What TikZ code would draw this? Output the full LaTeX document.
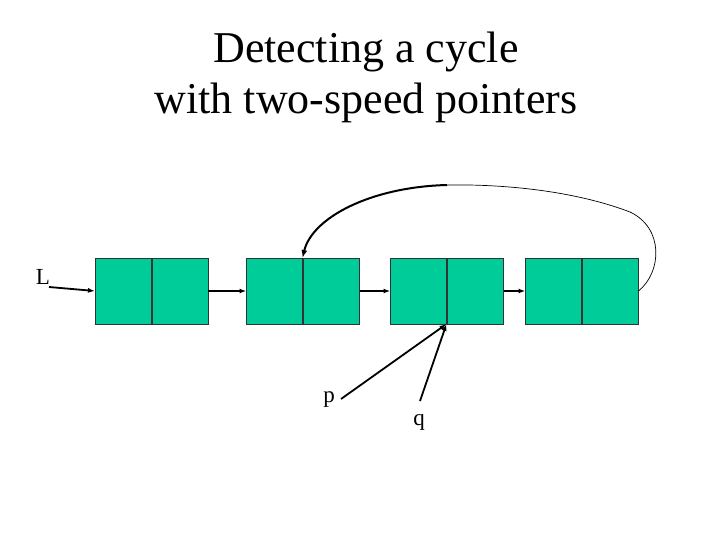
\documentclass[tikz,border=0pt]{standalone}
\usepackage{fontspec}
\setmainfont{Liberation Serif}
\usetikzlibrary{arrows.meta}
\definecolor{cellgreen}{HTML}{00CC99}
\begin{document}
\begin{tikzpicture}[x=1pt,y=-1pt,
  cell/.style={draw=black!80,fill=cellgreen,line width=0.9pt,minimum width=56pt,minimum height=66pt,inner sep=0pt,outer sep=0pt},
  link/.style={line width=1.8pt,-{Latex[length=7pt,width=5pt]}},
  lbl/.style={font=\fontsize{23}{27}\selectfont,inner sep=0pt}]
\useasboundingbox (0,0) rectangle (720,540);
\node[align=center,font=\fontsize{44}{51}\selectfont] (title) at (366,77) {Detecting a cycle\\with two-speed pointers};
% cells
\node[cell] (a1) at (123,291) {};
\node[cell] (a2) at (180,291) {};
\node[cell] (b1) at (274.5,291) {};
\node[cell] (b2) at (331.5,291) {};
\node[cell] (c1) at (418.5,291) {};
\node[cell] (c2) at (475.5,291) {};
\node[cell] (d1) at (553.5,291) {};
\node[cell] (d2) at (610.5,291) {};
\draw[link] (a2.east) -- (b1.west);
\draw[link] (b2.east) -- (c1.west);
\draw[link] (c2.east) -- (d1.west);
% L
\node[lbl] (L) at (43,277) {L};
\coordinate (Lstart) at (49,287);
\draw[link] (Lstart) -- (a1.west);
% cycle arrow
\coordinate (top) at (447,185);
\draw[line width=0.7pt] (d2.east) .. controls (662,272) and (664,228) .. (630,212) .. controls (575,191) and (505,184) .. (top);
\draw[line width=2pt,-{Latex[length=8pt,width=6pt]}] (top) .. controls (370,187) and (312,218) .. (b1.north east);
% p and q
\node[lbl] (p) at (329,400) {p};
\node[lbl] (q) at (419,422) {q};
\coordinate (ps) at (341,399);
\coordinate (qs) at (420,401);
\draw[link] (ps) -- (c1.south east);
\draw[link] (qs) -- (c1.south east);
\end{tikzpicture}
\end{document}
